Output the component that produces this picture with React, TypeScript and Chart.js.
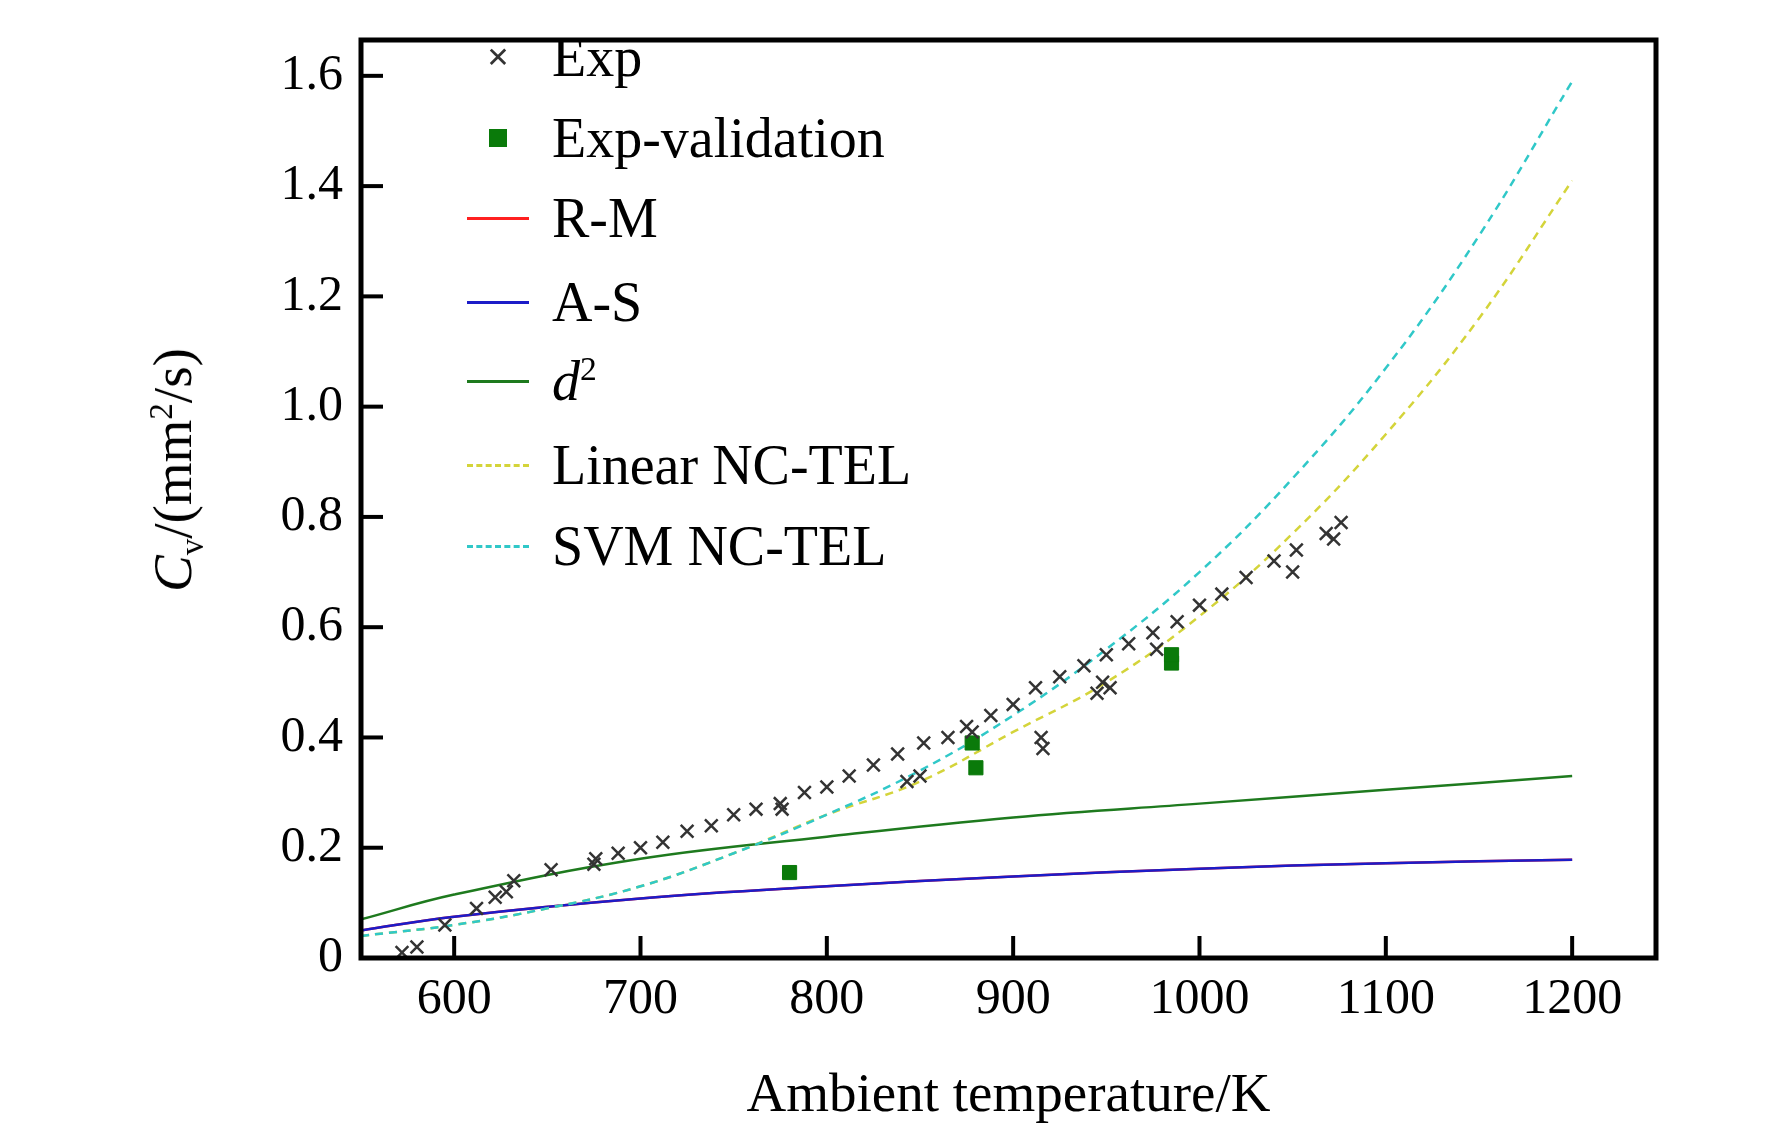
import React, { useEffect, useRef } from "react";
import { Chart, registerables } from "chart.js";
Chart.register(...registerables);

const expX = [572,580,595,612,622,628,632,652,675,676,688,700,712,725,738,750,762,775,776,788,800,812,825,838,843,850,852,865,875,878,888,900,912,915,916,925,938,945,948,952,950,962,975,977,988,1000,1012,1025,1040,1050,1052,1068,1072,1076];
const expY = [0.01,0.02,0.06,0.09,0.11,0.12,0.14,0.16,0.17,0.18,0.19,0.20,0.21,0.23,0.24,0.26,0.27,0.28,0.27,0.30,0.31,0.33,0.35,0.37,0.32,0.33,0.39,0.40,0.42,0.41,0.44,0.46,0.49,0.40,0.38,0.51,0.53,0.48,0.50,0.49,0.55,0.57,0.59,0.56,0.61,0.64,0.66,0.69,0.72,0.70,0.74,0.77,0.76,0.79];
const valX = [780,878,880,985,985];
const valY = [0.155,0.39,0.345,0.535,0.55];
const modelX = [550,600,700,800,900,1000,1100,1200];
const d2Y = [0.07,0.115,0.18,0.22,0.255,0.28,0.305,0.33];
const asY = [0.05,0.075,0.108,0.13,0.148,0.162,0.172,0.178];
const rmY = asY;
const nclX = [550,600,650,700,750,800,850,900,950,1000,1050,1100,1150,1200];
const linY = [0.04,0.06,0.09,0.13,0.19,0.26,0.32,0.41,0.5,0.62,0.77,0.95,1.16,1.41];
const svmY = [0.04,0.06,0.09,0.13,0.19,0.26,0.34,0.44,0.56,0.7,0.87,1.07,1.31,1.59];
const xTicks = [600,700,800,900,1000,1100,1200];
const yTicks = [0,0.2,0.4,0.6,0.8,1.0,1.2,1.4,1.6];

const pts = (xs: number[], ys: number[]) => xs.map((x, i) => ({ x, y: ys[i] }));
const FONT = "'Liberation Serif', 'DejaVu Serif', serif";

export default function App() {
  const ref = useRef<HTMLCanvasElement>(null);
  useEffect(() => {
    const frame = {
      id: "frame",
      afterDatasetsDraw(c: any) {
        const { ctx, chartArea: a, scales } = c;
        ctx.save();
        ctx.setLineDash([]);
        ctx.strokeStyle = "#000";
        ctx.lineWidth = 4;
        for (const t of xTicks) {
          const px = scales.x.getPixelForValue(t);
          ctx.beginPath(); ctx.moveTo(px, a.bottom); ctx.lineTo(px, a.bottom - 22); ctx.stroke();
        }
        for (const t of yTicks) {
          const py = scales.y.getPixelForValue(t);
          ctx.beginPath(); ctx.moveTo(a.left, py); ctx.lineTo(a.left + 22, py); ctx.stroke();
        }
        ctx.lineWidth = 5;
        ctx.strokeRect(a.left, a.top, a.right - a.left, a.bottom - a.top);
        ctx.restore();
      },
    };
    const line = (label: string, xs: number[], ys: number[], color: string, order: number, dash: number[] = []) => ({
      type: "line" as const, label, data: pts(xs, ys), borderColor: color, borderWidth: 2.5, order,
      borderDash: dash, pointRadius: 0, tension: 0.4, fill: false,
    });
    const chart = new Chart(ref.current!, {
      type: "scatter",
      data: {
        datasets: [
          { label: "Exp", data: pts(expX, expY), pointStyle: "cross", rotation: 45, pointRadius: 9, borderColor: "#333", borderWidth: 2.5, backgroundColor: "#333", order: 0 } as any,
          { label: "Exp-validation", data: pts(valX, valY), pointStyle: "rect", pointRadius: 10, borderColor: "#0a7a0a", backgroundColor: "#0a7a0a", order: 1 } as any,
          line("R-M", modelX, rmY, "#ff2020", 7),
          line("A-S", modelX, asY, "#1c1cc8", 6),
          line("d2", modelX, d2Y, "#1e7a1e", 5),
          line("Linear NC-TEL", nclX, linY, "#d4d43a", 4, [8, 6]),
          line("SVM NC-TEL", nclX, svmY, "#30c8c8", 3, [8, 6]),
        ],
      },
      options: {
        animation: false, responsive: false,
        layout: { padding: { left: 0, top: -24, right: 116, bottom: 0 } },
        plugins: { legend: { display: false }, tooltip: { enabled: false } },
        scales: {
          x: {
            type: "linear", min: 550, max: 1245,
            afterBuildTicks: (s: any) => { s.ticks = xTicks.map((v) => ({ value: v })); },
            afterFit: (s: any) => { s.height = 176; },
            grid: { display: false }, border: { display: false },
            ticks: { color: "#000", font: { family: FONT, size: 50 }, padding: 4, callback: (v: any) => String(v) },
            title: { display: true, text: "Ambient temperature/K", color: "#000", font: { family: FONT, size: 55 }, padding: { top: 0 } },
          },
          y: {
            type: "linear", min: 0, max: 1.665,
            afterBuildTicks: (s: any) => { s.ticks = yTicks.map((v) => ({ value: v })); },
            afterFit: (s: any) => { s.width = 361; },
            grid: { display: false }, border: { display: false },
            ticks: { color: "#000", font: { family: FONT, size: 50 }, padding: 10, callback: (v: any) => (v === 0 ? "0" : Number(v).toFixed(1)) },
          },
        },
      },
      plugins: [frame],
    });
    return () => chart.destroy();
  }, []);

  const rows: { label: React.ReactNode; kind: string; color: string; y: number }[] = [
    { label: "Exp", kind: "x", color: "#333", y: 57 },
    { label: "Exp-validation", kind: "sq", color: "#0a7a0a", y: 138 },
    { label: "R-M", kind: "line", color: "#ff2020", y: 218 },
    { label: "A-S", kind: "line", color: "#1c1cc8", y: 302 },
    { label: <span><i>d</i><sup style={{ fontSize: "0.6em" }}>2</sup></span>, kind: "line", color: "#1e7a1e", y: 381 },
    { label: "Linear NC-TEL", kind: "dash", color: "#d4d43a", y: 465 },
    { label: "SVM NC-TEL", kind: "dash", color: "#30c8c8", y: 546 },
  ];

  return (
    <div style={{ position: "fixed", left: 0, top: 0, width: 1772, height: 1134, background: "#fff", fontFamily: FONT }}>
      <canvas ref={ref} width={1772} height={1134} style={{ position: "absolute", left: 0, top: 0 }} />
      {rows.map((r, i) => (
        <div key={i} style={{ position: "absolute", left: 458, top: r.y - 32, height: 64, display: "flex", alignItems: "center", fontSize: 56, color: "#000" }}>
          <div style={{ width: 80, display: "flex", justifyContent: "center" }}>
            {r.kind === "x" && <span style={{ fontSize: 28, color: r.color, fontFamily: "DejaVu Sans" }}>✕</span>}
            {r.kind === "sq" && <div style={{ width: 18, height: 18, background: r.color }} />}
            {r.kind === "line" && <div style={{ width: 62, borderTop: `3px solid ${r.color}` }} />}
            {r.kind === "dash" && <div style={{ width: 62, borderTop: `3px dashed ${r.color}` }} />}
          </div>
          <span style={{ marginLeft: 14 }}>{r.label}</span>
        </div>
      ))}
      <div style={{ position: "absolute", left: 176, top: 470, transform: "translate(-50%,-50%) rotate(-90deg)", fontSize: 55, whiteSpace: "nowrap", color: "#000" }}>
        <i>C</i><sub style={{ fontSize: "0.6em" }}>v</sub>/(mm<sup style={{ fontSize: "0.6em" }}>2</sup>/s)
      </div>
    </div>
  );
}
